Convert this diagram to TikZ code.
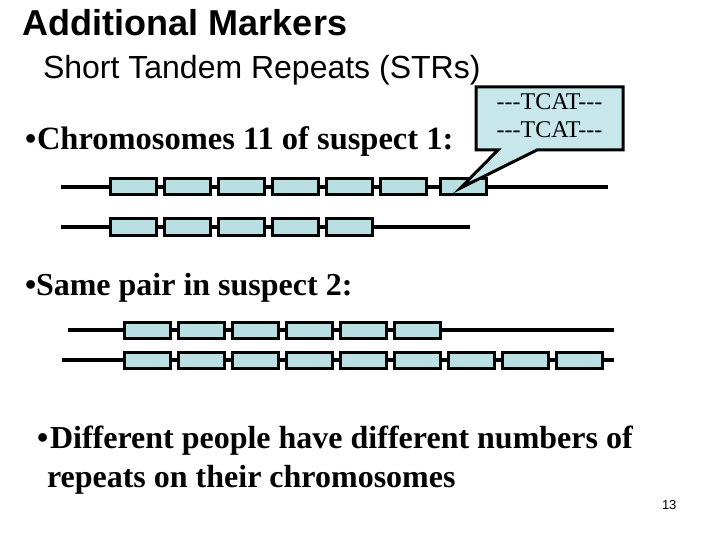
\documentclass[tikz,border=0pt]{standalone}
\usepackage{fontspec}
\setmainfont{Liberation Serif}
\newfontfamily\arialfont{Liberation Sans}
\definecolor{boxblue}{RGB}{186,223,227}
\definecolor{callblue}{RGB}{200,231,235}
\tikzset{
  rep/.style={draw=black, line width=3pt, fill=boxblue, minimum width=46pt, minimum height=16pt, inner sep=0pt, outer sep=0pt},
  chrom/.style={line width=4pt, black},
  txt/.style={anchor=base west, inner sep=0pt, outer sep=0pt},
  bodyfont/.style={font=\bfseries\fontsize{32}{38}\selectfont},
}
\begin{document}
\begin{tikzpicture}[x=1pt,y=-1pt]
\useasboundingbox (0,0) rectangle (720,540);
% titles
\node[txt, font=\arialfont\bfseries\fontsize{36}{40}\selectfont] (title) at (23,36) {Additional Markers};
\node[txt, font=\arialfont\fontsize{32}{36}\selectfont] (sub) at (43,79) {Short Tandem Repeats (STRs)};
\node[txt, bodyfont] (b1dot) at (25,150) {•};
\node[txt, font=\bfseries\fontsize{32.5}{38}\selectfont] (b1) at (37,150) {Chromosomes 11 of suspect 1:};
\node[txt, bodyfont] (b2dot) at (25,295) {•};
\node[txt, bodyfont] (b2) at (36,295) {Same pair in suspect 2:};
\node[txt, bodyfont] (b3dot) at (37,448) {•};
\node[txt, bodyfont] (b3) at (50,448) {Different people have different numbers of};
\node[txt, bodyfont] (b3b) at (47,487) {repeats on their chromosomes};
\node[txt, font=\arialfont\fontsize{13}{15}\selectfont] (pg) at (662,509) {13};
% chromosome lines
\coordinate (l1a) at (61,187); \coordinate (l1b) at (608,187);
\coordinate (l2a) at (61,227); \coordinate (l2b) at (470,227);
\coordinate (l3a) at (68,330); \coordinate (l3b) at (614,330);
\coordinate (l4a) at (62,360); \coordinate (l4b) at (614,360);
\draw[chrom] (l1a) -- (l1b);
\draw[chrom] (l2a) -- (l2b);
\draw[chrom] (l3a) -- (l3b);
\draw[chrom] (l4a) -- (l4b);
% repeats
\foreach \k in {0,...,5} \node[rep] (r1b\k) at ({133.5+54*\k},187) {};
\node[rep] (r1b6) at (463.5,187) {};
\foreach \k in {0,...,4} \node[rep] (r2b\k) at ({133.5+54*\k},227) {};
\foreach \k in {0,...,5} \node[rep] (r3b\k) at ({147.5+54*\k},330) {};
\foreach \k in {0,...,8} \node[rep] (r4b\k) at ({147.5+54*\k},360) {};
% callout
\coordinate (tip) at ([xshift=-3pt,yshift=-1pt]r1b6.center);
\draw[line width=3pt, fill=callblue, line join=miter]
  (476,87) -- (623,87) -- (623,150) -- (537,150) -- (tip) -- (498,150) -- (476,150) -- cycle;
\node[align=center, inner sep=0pt, font=\fontsize{24}{28}\selectfont] (tcat) at (549.5,116) {-{}-{}-TCAT-{}-{}-\\-{}-{}-TCAT-{}-{}-};
\end{tikzpicture}
\end{document}
